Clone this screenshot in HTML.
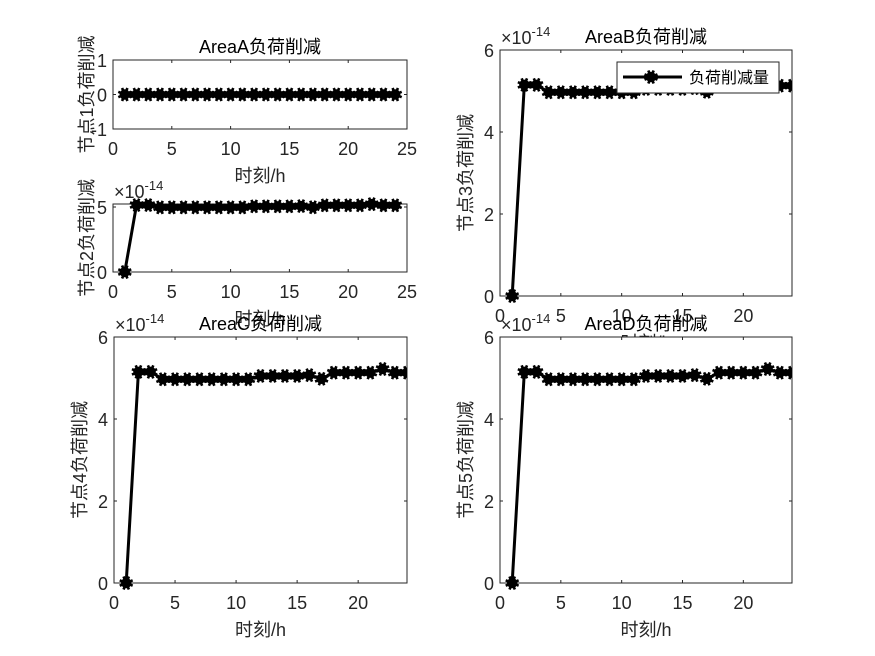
<!DOCTYPE html>
<html><head><meta charset="utf-8"><style>
body{margin:0;background:#fff;}
svg{display:block;font-family:"Liberation Sans","Noto Sans CJK SC",sans-serif;}
</style></head><body>
<svg id="fig" width="875" height="656" viewBox="0 0 875 656" xmlns="http://www.w3.org/2000/svg">
<rect width="875" height="656" fill="#fff"/>
</svg>
<script>
const hours = [1,2,3,4,5,6,7,8,9,10,11,12,13,14,15,16,17,18,19,20,21,22,23,24];
const shedA = [0,0,0,0,0,0,0,0,0,0,0,0,0,0,0,0,0,0,0,0,0,0,0,0];
const shedOthers = [0,5.15,5.15,4.97,4.97,4.97,4.97,4.97,4.97,4.97,4.97,5.05,5.05,5.05,5.05,5.07,4.98,5.13,5.13,5.13,5.13,5.22,5.13,5.13];
const xTicks25 = [0,5,10,15,20,25];
const xTicks20 = [0,5,10,15,20];
const yTicksA = [-1,0,1];
const yTicks2 = [0,5];
const yTicks6 = [0,2,4,6];

const NS="http://www.w3.org/2000/svg";
const svg=document.getElementById('fig');
function mk(tag,attrs,parent){const e=document.createElementNS(NS,tag);for(const k in attrs)e.setAttribute(k,attrs[k]);(parent||svg).appendChild(e);return e;}
function txt(s,attrs,parent){const e=mk('text',attrs,parent);e.textContent=s;return e;}
function marker(g,x,y){
  mk('circle',{cx:x,cy:y,r:5.2,fill:'#000'},g);
  for(let a=0;a<4;a++){const t=a*Math.PI/4+Math.PI/8;const dx=7*Math.cos(t),dy=7*Math.sin(t);
    mk('line',{x1:x-dx,y1:y-dy,x2:x+dx,y2:y+dy,stroke:'#000','stroke-width':2.6},g);}
}
function panel(o){
  const g=mk('g',{});
  
  
  const sx=v=>o.x0+(v-o.xmin)/(o.xmax-o.xmin)*(o.x1-o.x0);
  const sy=v=>o.y1-(v-o.ymin)/(o.ymax-o.ymin)*(o.y1-o.y0);
  const clipId='c'+o.name;
  const cp=mk('clipPath',{id:clipId},g);
  mk('rect',{x:o.x0-9,y:o.y0-9,width:o.x1-o.x0+9,height:o.y1-o.y0+18},cp);
  const ax=mk('rect',{x:o.x0,y:o.y0,width:o.x1-o.x0,height:o.y1-o.y0,fill:'#fff',stroke:'#262626','stroke-width':1},g);
  
  
  o.xt.forEach(v=>{const X=sx(v);
    mk('line',{x1:X,y1:o.y1,x2:X,y2:o.y1-3,stroke:'#262626'},g);
    mk('line',{x1:X,y1:o.y0,x2:X,y2:o.y0+3,stroke:'#262626'},g);
    const t=txt(String(v),{x:X,y:o.y1+26,'text-anchor':'middle','font-size':18,fill:'#262626'},g);
    
    
  });
  o.yt.forEach(v=>{const Y=sy(v);
    mk('line',{x1:o.x0,y1:Y,x2:o.x0+3,y2:Y,stroke:'#262626'},g);
    mk('line',{x1:o.x1,y1:Y,x2:o.x1-3,y2:Y,stroke:'#262626'},g);
    const t=txt(String(v),{x:o.x0-6,y:Y+7,'text-anchor':'end','font-size':18,fill:'#262626'},g);
    
    
  });
  const dg=mk('g',{'clip-path':'url(#'+clipId+')'},g);
  
  
  const pts=hours.map((h,i)=>sx(h)+','+sy(o.data[i])).join(' ');
  mk('polyline',{points:pts,fill:'none',stroke:'#000','stroke-width':3},dg);
  hours.forEach((h,i)=>marker(dg,sx(h),sy(o.data[i])));
  if(o.exp){const e=txt('×10',{x:o.x0+1,y:o.y0-6,'font-size':18,fill:'#262626'},g);
    const s=mk('tspan',{dy:-8,'font-size':13},e);s.textContent='-14';
    
    }
  const ti=txt(o.title,{x:(o.x0+o.x1)/2,y:o.y0-7,'text-anchor':'middle','font-size':18,fill:'#000'},g);
  
  
  const xl=txt('时刻/h',{x:(o.x0+o.x1)/2,y:o.y1+53,'text-anchor':'middle','font-size':18,fill:'#262626'},g);
  
  
  const cy=(o.y0+o.y1)/2;
  const yl=txt(o.ylab,{x:o.ylx,y:cy,'text-anchor':'middle','font-size':18,fill:'#262626',transform:'rotate(-90 '+o.ylx+' '+cy+')'},g);
  
  
}
panel({name:'panel-area-b',x0:500,x1:792,y0:50,y1:296,xmin:0,xmax:24,ymin:0,ymax:6,xt:xTicks20,yt:yTicks6,data:shedOthers,exp:true,title:'AreaB负荷削减',ylab:'节点3负荷削减',ylx:472});
panel({name:'panel-area-d',x0:500,x1:792,y0:337,y1:583,xmin:0,xmax:24,ymin:0,ymax:6,xt:xTicks20,yt:yTicks6,data:shedOthers,exp:true,title:'AreaD负荷削减',ylab:'节点5负荷削减',ylx:472});
panel({name:'panel-node2',x0:113,x1:407,y0:204,y1:272,xmin:0,xmax:25,ymin:0,ymax:5.23,xt:xTicks25,yt:yTicks2,data:shedOthers,exp:true,title:'',ylab:'节点2负荷削减',ylx:93});
panel({name:'panel-area-c',x0:114,x1:407,y0:337,y1:583,xmin:0,xmax:24,ymin:0,ymax:6,xt:xTicks20,yt:yTicks6,data:shedOthers,exp:true,title:'AreaC负荷削减',ylab:'节点4负荷削减',ylx:86});
panel({name:'panel-area-a',x0:113,x1:407,y0:60,y1:129,xmin:0,xmax:25,ymin:-1,ymax:1,xt:xTicks25,yt:yTicksA,data:shedA,exp:false,title:'AreaA负荷削减',ylab:'节点1负荷削减',ylx:93});
const lg=mk('g',{});


mk('rect',{x:617,y:62,width:162,height:31,fill:'#fff',stroke:'#262626'},lg);
mk('line',{x1:623,y1:77,x2:682,y2:77,stroke:'#000','stroke-width':3},lg);
marker(lg,651,77);
const lt=txt('负荷削减量',{x:689,y:83,'font-size':16,fill:'#000'},lg);


</script>
</body></html>
